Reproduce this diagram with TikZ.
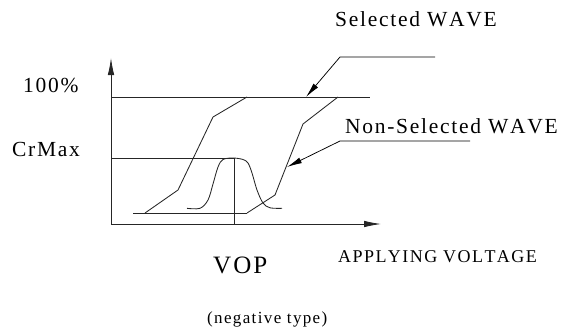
\documentclass[tikz,border=0pt]{standalone}
\usepackage{fontspec}
\setmainfont{Liberation Serif}
\newfontfamily\lblfont[LetterSpace=8,Kerning=Off]{Liberation Serif}
\usetikzlibrary{arrows.meta}
\begin{document}
\begin{tikzpicture}[x=1pt,y=-1pt,
  curve/.style={line width=0.85pt, black!85, line join=miter},
  axis/.style={curve, -{Latex[length=17pt,width=6.5pt]}},
  callout/.style={line width=0.75pt, black, -{Latex[length=15pt,width=6pt]}},
  lbl/.style={inner sep=0pt, anchor=base west},
  big/.style={font=\lblfont\fontsize{21.5pt}{25pt}\selectfont},
  huge/.style={font=\lblfont\fontsize{25pt}{30pt}\selectfont},
  mid/.style={font=\lblfont\fontsize{18pt}{22pt}\selectfont},
  small/.style={font=\lblfont\fontsize{17pt}{20pt}\selectfont}]
\useasboundingbox (0,0) rectangle (572,329);

% axes
\coordinate (O) at (111,224);
\coordinate (ytop) at (111,58);
\coordinate (xend) at (381,224);
\draw[axis] (O) -- (ytop);
\draw[axis] (O) -- (xend);

% 100% level and CrMax level with its drop to the axis
\coordinate (fullL) at (111,97);
\coordinate (fullR) at (370,97);
\draw[curve] (fullL) -- (fullR);
\coordinate (crL) at (111,158);
\coordinate (peak) at (234,158);
\coordinate (peakfoot) at (234,224);
\draw[curve] (crL) -- (peak) -- (peakfoot);

% base line of the transmission curves
\coordinate (baseL) at (133,213);
\coordinate (baseR) at (247,213);
\draw[curve] (baseL) -- (baseR);

% selected wave
\coordinate (s0) at (145,213);
\coordinate (s1) at (178,190);
\coordinate (s2) at (213,117);
\coordinate (s3) at (247,97);
\draw[curve] (s0) -- (s1) -- (s2) -- (s3);

% non-selected wave
\coordinate (n1) at (275,195);
\coordinate (n2) at (303,124);
\coordinate (n3) at (338,97);
\draw[curve] (baseR) -- (n1) -- (n2) -- (n3);

% pulse around VOP
\draw[curve] plot[smooth, tension=0.55] coordinates {
  (187,208.3) (200,208.3) (208,200) (213,184) (218,167) (223,159.5)
  (233,158) (243,159.5) (248,163) (252,173) (257,190) (263,203)
  (270,207.8) (282,208.3)};

% callout for the selected wave
\coordinate (selEnd) at (435,57);
\coordinate (selKnee) at (340,57);
\coordinate (selTip) at (306,97);
\draw[callout] (selEnd) -- (selKnee) -- (selTip);

% callout for the non-selected wave
\coordinate (nonEnd) at (470,141);
\coordinate (nonKnee) at (340,141);
\coordinate (nonTip) at (287,167);
\draw[callout] (nonEnd) -- (nonKnee) -- (nonTip);

% labels
\node[lbl, big] (selLbl) at (335,27) {Selected WAVE};
\node[lbl, big] (nonLbl) at (345,133) {Non-Selected WAVE};
\node[lbl, big] (fullLbl) at (23,92) {100\%};
\node[lbl, big] (crLbl) at (12,156) {CrMax};
\node[lbl, huge] (vopLbl) at (213,273) {VOP};
\node[lbl, mid] (xLbl) at (338,262) {APPLYING VOLTAGE};
\node[lbl, small] (typeLbl) at (207,323) {(negative type)};
\end{tikzpicture}
\end{document}
